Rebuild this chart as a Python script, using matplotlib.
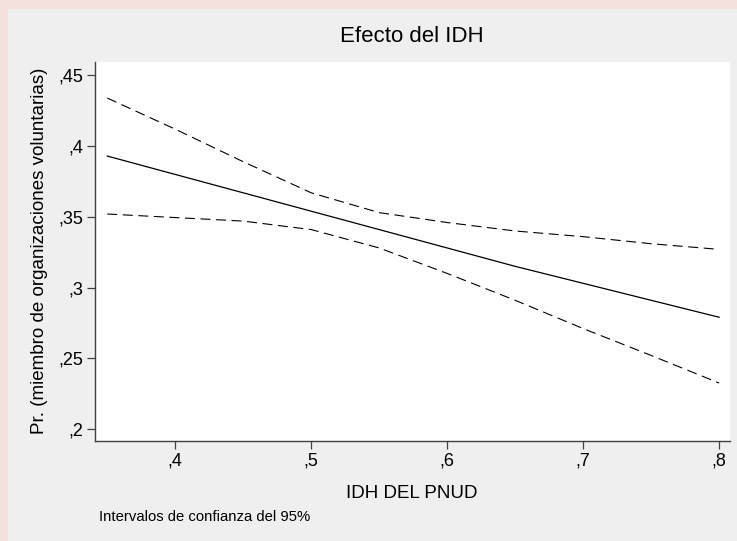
import matplotlib
matplotlib.use("Agg")
import matplotlib.pyplot as plt
from matplotlib.patches import Rectangle

plt.rcParams['font.family'] = ['Liberation Sans', 'DejaVu Sans']

# Predicted probability and 95% CI
idh = [0.35, 0.40, 0.45, 0.50, 0.55, 0.60, 0.65, 0.70, 0.75, 0.80]
pred = [0.393, 0.380, 0.367, 0.354, 0.341, 0.328, 0.315, 0.303, 0.291, 0.279]
upper = [0.434, 0.412, 0.389, 0.367, 0.353, 0.346, 0.340, 0.336, 0.331, 0.327]
lower = [0.352, 0.3495, 0.347, 0.341, 0.328, 0.310, 0.291, 0.271, 0.252, 0.2325]

xticks = [0.4, 0.5, 0.6, 0.7, 0.8]
xticklabels = [",4", ",5", ",6", ",7", ",8"]
yticks = [0.2, 0.25, 0.3, 0.35, 0.4, 0.45]
yticklabels = [",2", ",25", ",3", ",35", ",4", ",45"]

W, H = 737, 541
fig = plt.figure(figsize=(W/100, H/100), dpi=100)
fig.patch.set_facecolor('#f3e2dc')
# grey Stata graph region
fig.patches.append(Rectangle((8/W, 0), 1, 1 - 9/H, transform=fig.transFigure,
                             facecolor='#efefef', edgecolor='none', zorder=-5))

ax = fig.add_axes([95/W, 1 - 441/H, (730 - 95)/W, (441 - 62)/H])
ax.set_zorder(2)
ax.set_facecolor('white')

ax.plot(idh, pred, color='black', lw=0.9)
l1, = ax.plot(idh, upper, color='black', lw=0.8)
l2, = ax.plot(idh, lower, color='black', lw=0.8)
for l in (l1, l2):
    l.set_dashes((9, 5))

ax.set_xlim(0.341, 0.808)
ax.set_ylim(0.1915, 0.4595)
ax.set_xticks(xticks)
ax.set_xticklabels(xticklabels)
ax.set_yticks(yticks)
ax.set_yticklabels(yticklabels, rotation=0)

for s in ('top', 'right'):
    ax.spines[s].set_visible(False)
for s in ('left', 'bottom'):
    ax.spines[s].set_color('#404040')
    ax.spines[s].set_linewidth(1.0)
ax.tick_params(direction='out', length=5.5, width=0.9, color='#404040',
               labelsize=13, pad=3)

ax.set_xlabel("IDH DEL PNUD", fontsize=13.5)
ax.xaxis.set_label_coords(412/W, 1 - 493/H, transform=fig.transFigure)
ax.xaxis.label.set_va('center')
ax.set_ylabel("Pr. (miembro de organizaciones voluntarias)", fontsize=13.5)
ax.yaxis.set_label_coords(40/W, 1 - 251/H, transform=fig.transFigure)
ax.yaxis.label.set_va('center')

fig.text(412/W, 1 - 36/H, "Efecto del IDH", fontsize=16, ha='center', va='center')
fig.text(99/W, 1 - 517/H, "Intervalos de confianza del 95%", fontsize=10.7,
         va='center', ha='left')

fig.savefig("out.png", dpi=100, facecolor=fig.get_facecolor())
